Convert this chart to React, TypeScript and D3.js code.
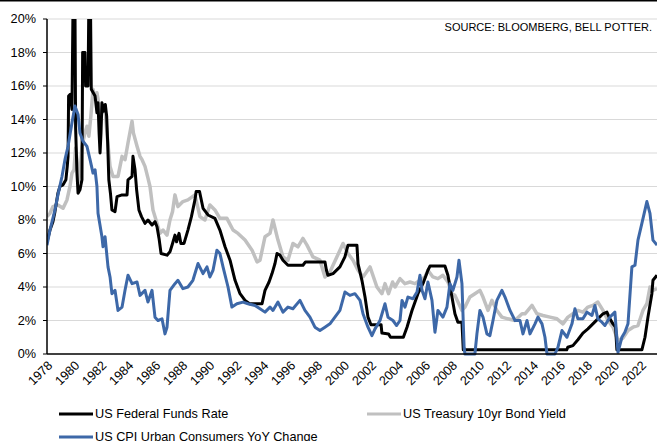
import React, { useEffect, useRef } from 'react';
import * as d3 from 'd3';

// [decimal year, %]
const fedFunds: [number, number][] = [
  [1978.00, 6.7], [1978.22, 7.4], [1978.44, 7.9], [1978.59, 8.5], [1978.81, 9.6], [1978.96, 10.0],
  [1979.19, 10.1], [1979.40, 10.4], [1979.50, 11.2], [1979.56, 11.8], [1979.60, 15.4], [1979.72, 15.5],
  [1979.85, 14.6], [1979.93, 21.0], [1980.07, 21.0], [1980.12, 13.5], [1980.22, 10.8], [1980.30, 9.6],
  [1980.44, 9.8], [1980.59, 10.4], [1980.64, 18.0], [1980.81, 18.0], [1980.86, 16.0], [1981.04, 16.0],
  [1981.10, 21.0], [1981.22, 21.0], [1981.28, 15.8], [1981.56, 15.4], [1981.70, 14.4], [1981.78, 15.0],
  [1981.86, 13.2], [1981.93, 12.0], [1982.00, 13.2], [1982.07, 15.0], [1982.22, 14.5], [1982.32, 14.9],
  [1982.42, 14.2], [1982.50, 12.5], [1982.58, 10.4], [1982.70, 9.6], [1982.81, 8.6], [1983.04, 8.5],
  [1983.19, 9.4], [1983.56, 9.5], [1983.93, 9.5], [1984.00, 10.4], [1984.30, 10.6], [1984.37, 11.8],
  [1984.52, 11.0], [1984.64, 9.8], [1984.81, 8.6], [1985.00, 8.2], [1985.26, 7.8], [1985.48, 8.0],
  [1985.78, 7.7], [1986.00, 7.9], [1986.15, 7.6], [1986.30, 6.9], [1986.45, 6.0], [1986.89, 5.9],
  [1987.11, 6.1], [1987.30, 6.6], [1987.48, 7.1], [1987.60, 6.7], [1987.78, 7.2], [1987.92, 6.6],
  [1988.15, 6.6], [1988.44, 7.4], [1988.70, 8.2], [1988.96, 9.2], [1989.05, 9.7], [1989.30, 9.7],
  [1989.56, 8.7], [1989.93, 8.3], [1990.44, 8.1], [1990.81, 7.4], [1991.19, 6.4], [1991.56, 5.6],
  [1991.93, 4.4], [1992.30, 3.6], [1992.67, 3.2], [1993.00, 3.0], [1993.93, 3.0], [1994.15, 3.8],
  [1994.45, 4.3], [1994.67, 4.8], [1994.89, 5.4], [1995.04, 6.0], [1995.26, 5.9], [1995.48, 5.6],
  [1995.85, 5.3], [1996.96, 5.3], [1997.15, 5.5], [1998.59, 5.5], [1998.70, 5.0], [1998.81, 4.7],
  [1999.19, 4.8], [1999.70, 5.2], [2000.07, 5.8], [2000.30, 6.5], [2000.96, 6.5], [2001.04, 5.4],
  [2001.33, 4.4], [2001.56, 3.4], [2001.78, 2.2], [2002.00, 1.75], [2002.75, 1.75], [2002.81, 1.25],
  [2003.30, 1.2], [2003.45, 1.0], [2004.40, 1.0], [2004.67, 1.6], [2005.04, 2.6], [2005.48, 3.6],
  [2005.85, 4.2], [2006.22, 5.0], [2006.37, 5.25], [2007.48, 5.25], [2007.70, 4.7], [2008.00, 3.4],
  [2008.22, 2.4], [2008.44, 1.9], [2008.74, 1.9], [2008.84, 0.25], [2016.50, 0.25], [2016.58, 0.4],
  [2016.96, 0.5], [2017.33, 0.85], [2017.70, 1.25], [2018.07, 1.5], [2018.44, 1.8], [2018.81, 2.1],
  [2019.19, 2.4], [2019.48, 2.5], [2019.70, 2.1], [2019.93, 1.8], [2020.12, 1.6], [2020.22, 0.25],
  [2022.07, 0.25], [2022.30, 1.0], [2022.52, 2.2], [2022.81, 3.6], [2022.89, 4.4], [2023.19, 4.7],
];

const treasury10y: [number, number][] = [
  [1978.00, 8.2], [1978.22, 8.4], [1978.44, 8.8], [1978.81, 8.9], [1979.19, 8.7], [1979.48, 9.2],
  [1979.70, 10.0], [1979.85, 10.8], [1980.00, 11.0], [1980.12, 12.3], [1980.22, 11.6], [1980.33, 10.3],
  [1980.44, 10.8], [1980.59, 12.4], [1980.81, 13.2], [1980.96, 13.6], [1981.10, 13.0], [1981.25, 14.2],
  [1981.41, 15.8], [1981.56, 15.2], [1981.70, 15.6], [1981.78, 15.2], [1981.93, 14.2], [1982.07, 14.4],
  [1982.30, 14.6], [1982.44, 13.2], [1982.67, 11.2], [1982.89, 10.6], [1983.26, 10.6], [1983.56, 11.8],
  [1983.78, 11.6], [1984.00, 12.6], [1984.30, 13.9], [1984.40, 13.2], [1984.67, 12.4], [1984.89, 11.8],
  [1985.04, 11.6], [1985.26, 11.2], [1985.48, 10.5], [1985.63, 10.0], [1985.85, 8.6], [1986.15, 7.8],
  [1986.37, 7.2], [1986.60, 7.4], [1986.89, 7.1], [1987.11, 8.0], [1987.30, 8.5], [1987.48, 9.5],
  [1987.70, 8.8], [1988.07, 9.1], [1988.44, 9.2], [1988.96, 9.5], [1989.33, 8.2], [1989.70, 8.0],
  [1990.07, 8.9], [1990.44, 8.6], [1990.81, 8.1], [1991.33, 8.1], [1991.78, 7.4], [1992.15, 7.2],
  [1992.67, 6.8], [1993.19, 6.2], [1993.56, 5.5], [1993.78, 5.6], [1994.15, 7.0], [1994.52, 7.2],
  [1994.74, 8.0], [1995.11, 6.8], [1995.48, 5.8], [1995.85, 5.6], [1996.22, 6.6], [1996.59, 6.4],
  [1996.96, 6.9], [1997.26, 6.5], [1997.70, 5.8], [1998.22, 5.6], [1998.59, 4.6], [1998.96, 4.9],
  [1999.48, 5.8], [1999.93, 6.6], [2000.30, 6.0], [2000.67, 5.6], [2001.04, 5.0], [2001.41, 4.6],
  [2001.93, 5.2], [2002.44, 4.0], [2002.81, 3.6], [2003.04, 4.2], [2003.30, 3.6], [2003.60, 4.3],
  [2003.78, 4.0], [2004.15, 4.5], [2004.52, 4.2], [2004.89, 4.3], [2005.26, 4.2], [2005.63, 4.4],
  [2006.00, 4.6], [2006.22, 5.0], [2006.59, 4.6], [2006.96, 4.5], [2007.33, 4.7], [2007.70, 4.3],
  [2008.00, 3.6], [2008.22, 3.5], [2008.74, 2.6], [2008.96, 2.8], [2009.33, 3.4], [2009.70, 3.6],
  [2010.07, 3.8], [2010.30, 3.4], [2010.67, 2.6], [2010.96, 3.2], [2011.33, 2.6], [2011.70, 2.2],
  [2012.15, 2.1], [2012.67, 2.0], [2013.19, 2.4], [2013.41, 2.4], [2013.93, 2.9], [2014.30, 2.4],
  [2014.74, 2.3], [2015.26, 2.2], [2015.78, 2.1], [2016.22, 1.8], [2016.59, 2.2], [2016.96, 2.4],
  [2017.33, 2.6], [2017.70, 2.5], [2018.07, 2.8], [2018.44, 2.9], [2018.81, 3.1], [2019.19, 2.6],
  [2019.56, 2.0], [2019.93, 1.6], [2020.30, 0.8], [2020.67, 0.95], [2021.04, 1.4], [2021.41, 1.6],
  [2021.78, 1.7], [2022.15, 2.6], [2022.44, 3.0], [2022.67, 4.0], [2022.89, 3.8], [2023.19, 3.9],
];

const cpiYoY: [number, number][] = [
  [1978.00, 6.5], [1978.22, 7.4], [1978.59, 8.6], [1978.81, 9.5], [1979.11, 10.6], [1979.33, 11.6],
  [1979.56, 12.4], [1979.85, 13.8], [1980.07, 14.8], [1980.30, 14.3], [1980.44, 13.2], [1980.67, 12.7],
  [1980.96, 12.4], [1981.19, 11.6], [1981.41, 10.8], [1981.56, 11.0], [1981.70, 10.0], [1981.78, 8.4],
  [1982.07, 7.0], [1982.15, 6.4], [1982.30, 7.0], [1982.52, 5.2], [1982.67, 4.6], [1982.81, 3.6],
  [1983.04, 3.8], [1983.26, 2.6], [1983.56, 2.8], [1983.78, 3.8], [1984.00, 4.7], [1984.30, 4.2],
  [1984.67, 4.3], [1984.89, 3.5], [1985.26, 3.8], [1985.48, 3.1], [1985.78, 3.8], [1986.00, 2.2],
  [1986.22, 2.0], [1986.52, 2.1], [1986.74, 1.2], [1986.89, 1.6], [1987.11, 3.8], [1987.48, 4.2],
  [1987.70, 4.4], [1988.07, 3.9], [1988.44, 4.0], [1988.81, 4.4], [1989.19, 5.4], [1989.56, 4.8],
  [1989.85, 5.2], [1990.07, 4.6], [1990.30, 5.0], [1990.59, 6.2], [1990.81, 6.0], [1991.04, 5.2],
  [1991.41, 4.0], [1991.70, 2.8], [1992.07, 3.0], [1992.52, 3.1], [1992.89, 3.0], [1993.41, 2.9],
  [1993.78, 2.7], [1994.15, 2.5], [1994.52, 2.8], [1994.74, 2.6], [1995.11, 3.1], [1995.48, 2.5],
  [1995.85, 2.8], [1996.22, 2.7], [1996.74, 3.2], [1997.11, 2.6], [1997.48, 2.2], [1997.85, 1.6],
  [1998.22, 1.4], [1998.59, 1.6], [1998.96, 1.8], [1999.33, 2.2], [1999.70, 2.6], [2000.07, 3.7],
  [2000.44, 3.5], [2000.81, 3.6], [2001.19, 3.2], [2001.41, 2.4], [2001.78, 1.6], [2002.07, 1.1],
  [2002.30, 1.5], [2002.67, 2.0], [2003.04, 3.0], [2003.26, 2.2], [2003.63, 2.0], [2003.90, 1.7],
  [2004.15, 2.0], [2004.30, 3.2], [2004.52, 2.8], [2004.74, 3.4], [2005.11, 3.3], [2005.41, 3.7],
  [2005.63, 4.7], [2005.78, 3.8], [2006.00, 3.3], [2006.22, 4.3], [2006.52, 3.2], [2006.74, 1.3],
  [2006.96, 2.6], [2007.33, 2.2], [2007.63, 2.8], [2007.85, 4.2], [2008.07, 3.8], [2008.37, 4.6],
  [2008.52, 5.6], [2008.74, 4.2], [2008.90, 0.4], [2008.96, 0.0], [2009.70, 0.0], [2009.85, 1.2],
  [2010.07, 2.6], [2010.30, 2.2], [2010.59, 1.2], [2010.81, 1.1], [2011.04, 2.0], [2011.33, 3.2],
  [2011.70, 3.8], [2011.93, 3.4], [2012.30, 2.6], [2012.67, 2.0], [2013.04, 2.0], [2013.26, 1.2],
  [2013.56, 2.0], [2013.78, 1.2], [2014.15, 1.8], [2014.37, 2.2], [2014.67, 1.8], [2014.89, 1.0],
  [2015.04, 0.0], [2015.63, 0.0], [2015.85, 0.4], [2016.15, 1.4], [2016.52, 1.0], [2016.89, 1.8],
  [2017.11, 2.7], [2017.33, 2.1], [2017.70, 2.1], [2018.00, 2.5], [2018.37, 2.3], [2018.59, 2.9],
  [2018.81, 2.1], [2019.11, 1.9], [2019.33, 1.7], [2019.70, 2.2], [2020.07, 2.5], [2020.30, 0.1],
  [2020.59, 1.0], [2020.81, 1.3], [2021.04, 1.8], [2021.33, 5.2], [2021.56, 5.3], [2021.78, 6.8],
  [2022.07, 7.8], [2022.30, 8.6], [2022.44, 9.1], [2022.67, 8.4], [2022.89, 6.8], [2023.19, 6.5],
];

const yTicks = [0, 2, 4, 6, 8, 10, 12, 14, 16, 18, 20];
const xTicks = d3.range(1978, 2023, 2);
const seriesNames = ['US Federal Funds Rate', 'US Treasury 10yr Bond Yield', 'US CPI Urban Consumers YoY Change'];
const seriesColors = ['#000000', '#c0c0c0', '#3d68a8'];
const sourceText = 'SOURCE: BLOOMBERG, BELL POTTER.';

const W = 657;
const H = 441;
const font = '"Liberation Sans", Arial, sans-serif';

export default function App() {
  const svgRef = useRef<SVGSVGElement>(null);

  function draw(elm: SVGSVGElement) {
    const svg = d3.select(elm);
    svg.selectAll('*').remove();

    const left = 47, right = 657, top = 19, bottom = 354;
    const x = d3.scaleLinear().domain([1978, 2023.19]).range([left, right]);
    const y = d3.scaleLinear().domain([0, 20]).range([bottom, top]);

    svg.append('rect').attr('x', 0).attr('y', 0).attr('width', W).attr('height', 1.5).attr('fill', '#000');

    // gridlines
    svg.append('g')
      .selectAll('line')
      .data(yTicks.filter(d => d > 0))
      .enter()
      .append('line')
      .attr('x1', left).attr('x2', right)
      .attr('y1', d => y(d)).attr('y2', d => y(d))
      .attr('stroke', '#d9d9d9')
      .attr('stroke-width', 1);

    svg.append('clipPath').attr('id', 'plotclip')
      .append('rect').attr('x', left).attr('y', top).attr('width', right - left).attr('height', H - top);

    const line = d3.line<[number, number]>()
      .x(d => x(d[0]))
      .y(d => y(d[1]));

    const lines: [[number, number][], string, number][] = [
      [treasury10y, seriesColors[1], 3.5],
      [fedFunds, seriesColors[0], 3],
      [cpiYoY, seriesColors[2], 3],
    ];
    const g = svg.append('g').attr('clip-path', 'url(#plotclip)');
    lines.forEach(([data, color, w]) => {
      g.append('path')
        .attr('d', line(data))
        .attr('fill', 'none')
        .attr('stroke', color)
        .attr('stroke-width', w)
        .attr('stroke-linejoin', 'round');
    });

    // axes
    svg.append('line').attr('x1', left).attr('x2', left).attr('y1', top).attr('y2', bottom)
      .attr('stroke', '#000').attr('stroke-width', 1.5);
    svg.append('line').attr('x1', left).attr('x2', right).attr('y1', bottom).attr('y2', bottom)
      .attr('stroke', '#000').attr('stroke-width', 1.5);

    svg.append('g')
      .selectAll('line')
      .data(yTicks)
      .enter()
      .append('line')
      .attr('x1', left - 4).attr('x2', left)
      .attr('y1', d => y(d)).attr('y2', d => y(d))
      .attr('stroke', '#000').attr('stroke-width', 1);

    svg.append('g')
      .selectAll('text')
      .data(yTicks)
      .enter()
      .append('text')
      .text(d => d + '%')
      .attr('x', 36)
      .attr('y', d => y(d))
      .attr('dy', '0.35em')
      .attr('text-anchor', 'end')
      .attr('font-family', font)
      .attr('font-size', '12.7px')
      .attr('fill', '#000');

    svg.append('g')
      .selectAll('text')
      .data(xTicks)
      .enter()
      .append('text')
      .text(d => d)
      .attr('transform', d => 'translate(' + (x(d) + 3) + ',' + 363 + ') rotate(-45)')
      .attr('dy', '0.35em')
      .attr('text-anchor', 'end')
      .attr('font-family', font)
      .attr('font-size', '12.7px')
      .attr('fill', '#000');

    svg.append('text')
      .text(sourceText)
      .attr('x', 652).attr('y', 31)
      .attr('text-anchor', 'end')
      .attr('font-family', font)
      .attr('font-size', '11px')
      .attr('fill', '#000');

    // legend
    const legend: [number, number, number][] = [[59, 414, 0], [367, 414, 1], [59, 437, 2]];
    legend.forEach(([lx, ly, i]) => {
      svg.append('line').attr('x1', lx).attr('x2', lx + 34).attr('y1', ly).attr('y2', ly)
        .attr('stroke', seriesColors[i]).attr('stroke-width', 3);
      svg.append('text').text(seriesNames[i])
        .attr('x', lx + 36).attr('y', ly).attr('dy', '0.35em')
        .attr('font-family', font).attr('font-size', '12.7px').attr('fill', '#000');
    });
  }

  useEffect(() => {
    if (svgRef.current) {
      draw(svgRef.current);
    }
  }, []);

  return (
    <svg ref={svgRef} width={W} height={H}
      style={{ position: 'absolute', left: 0, top: 0, background: '#fff' }} />
  );
}
